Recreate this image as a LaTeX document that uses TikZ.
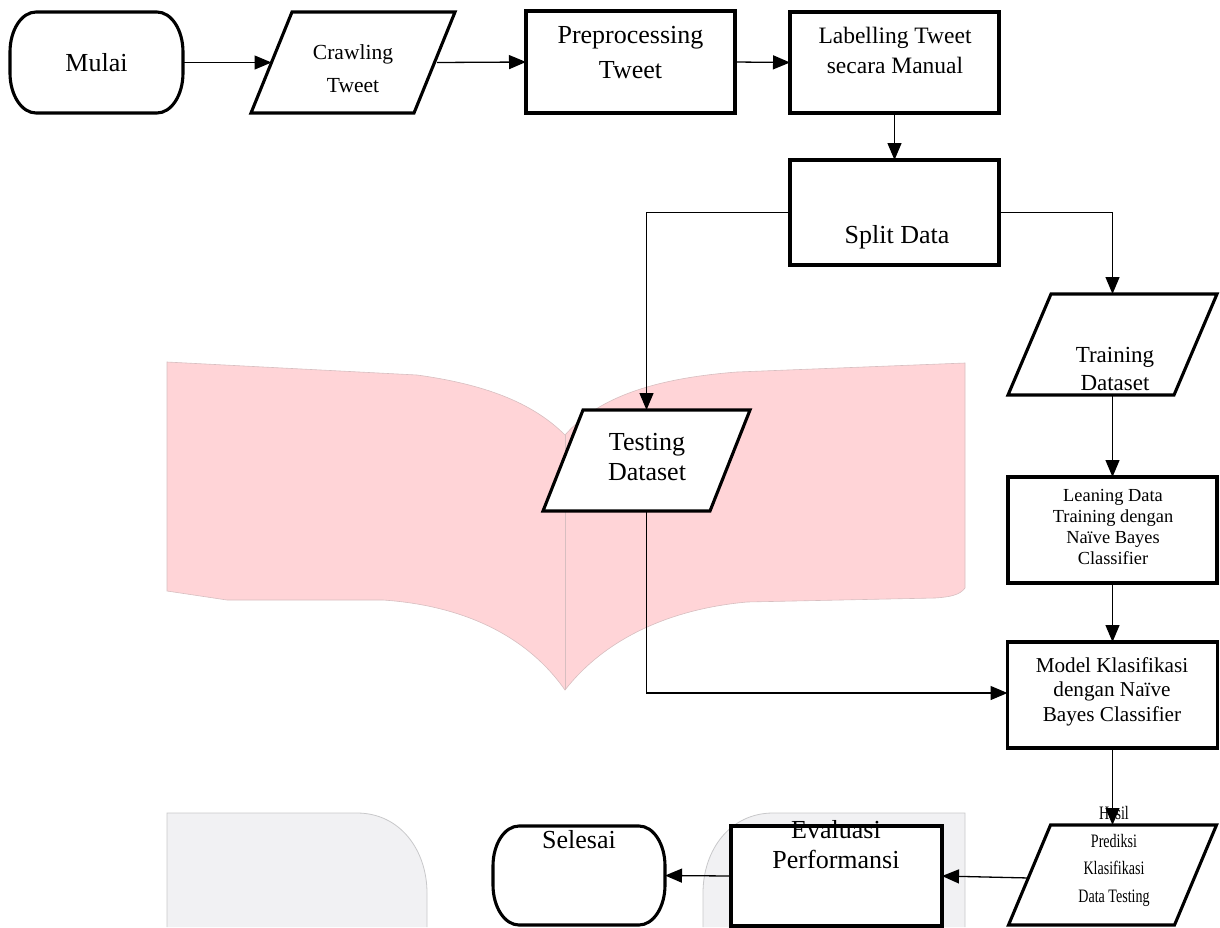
\documentclass[tikz,border=0pt]{standalone}
\usepackage{fontspec}
\setmainfont{Liberation Serif}
\usetikzlibrary{arrows.meta}
\definecolor{pinkfill}{RGB}{255,212,215}
\definecolor{pinkedge}{RGB}{215,190,192}
\definecolor{grayfill}{RGB}{241,241,243}
\definecolor{grayedge}{RGB}{200,200,202}
\newcommand\termpath[1]{\draw[boxline,fill=white] ([xshift=26pt]#1.north west) -- ([xshift=-26pt]#1.north east) arc[start angle=90,end angle=0,x radius=26pt,y radius=40pt] -- ([yshift=40pt]#1.south east) arc[start angle=0,end angle=-90,x radius=26pt,y radius=40pt] -- ([xshift=26pt]#1.south west) arc[start angle=270,end angle=180,x radius=26pt,y radius=40pt] -- ([yshift=-40pt]#1.north west) arc[start angle=180,end angle=90,x radius=26pt,y radius=40pt] -- cycle;}
\newcommand\parapath[2]{\draw[boxline,fill=white] ([xshift=#2]#1.north west) -- (#1.north east) -- ([xshift=-#2]#1.south east) -- (#1.south west) -- cycle;}
\begin{document}
\begin{tikzpicture}[x=1pt,y=1pt,
  boxline/.style={line width=3.1pt,line join=miter},
  box/.style={boxline,draw,fill=white,rectangle,inner sep=0pt,outer sep=0pt},
  frame/.style={rectangle,inner sep=0pt,outer sep=0pt},
  txt/.style={align=center,inner sep=0pt},
  conn/.style={line width=1.3pt,-{Triangle[length=17pt,width=14pt]}}]
\useasboundingbox (0,0) rectangle (1220,-927);
% background decorative shapes
\path[fill=pinkfill,draw=pinkedge,line width=0.6pt]
  (167,-362) -- (417,-375) .. controls (490,-385) and (535,-405) .. (565,-435)
  .. controls (600,-395) and (660,-378) .. (737,-372) -- (965,-363) -- (965,-588)
  .. controls (960,-595) and (950,-597) .. (935,-598) -- (747,-602)
  .. controls (660,-610) and (600,-645) .. (565,-690)
  .. controls (530,-640) and (470,-606) .. (383,-600) -- (227,-600) -- (167,-591) -- cycle;
\draw[pinkedge,line width=0.6pt] (565,-435) -- (565,-690);
\path[fill=grayfill,draw=grayedge,line width=0.8pt]
  (167,-927) -- (167,-813) -- (357,-813) .. controls (400,-813) and (427,-850) .. (427,-893) -- (427,-927);
\path[fill=grayfill,draw=grayedge,line width=0.8pt]
  (703,-927) -- (703,-893) .. controls (703,-850) and (730,-813) .. (773,-813) -- (965,-813) -- (965,-927);
% nodes
\node[frame,minimum width=173pt,minimum height=101pt] (mulai) at (96.5,-62.5) {};
\termpath{mulai}
\node[txt,font=\fontsize{26}{30}\selectfont] (mulaiT) at (96.5,-63) {Mulai};
\node[frame,minimum width=204pt,minimum height=101pt] (crawl) at (353,-62.5) {};
\parapath{crawl}{41pt}
\node[txt,font=\fontsize{21.5}{33}\selectfont] (crawlT) at (353,-68.5) {Crawling\\Tweet};
\node[box,minimum width=209pt,minimum height=102pt] (pre) at (630.5,-62) {};
\node[txt,font=\fontsize{26}{35}\selectfont] (preT) at (630.5,-52.5) {Preprocessing\\Tweet};
\node[box,minimum width=209pt,minimum height=101pt] (lab) at (894.5,-62.5) {};
\node[txt,font=\fontsize{23.5}{30}\selectfont] (labT) at (895,-50) {Labelling Tweet\\secara Manual};
\node[box,minimum width=209pt,minimum height=105pt] (split) at (894.5,-212.5) {};
\node[txt,font=\fontsize{26}{30}\selectfont] (splitT) at (897,-237) {Split Data};
\node[frame,minimum width=209pt,minimum height=101pt] (train) at (1112.5,-344.5) {};
\parapath{train}{43pt}
\node[txt,font=\fontsize{23}{28}\selectfont] (trainT) at (1115,-369) {Training\\Dataset};
\node[frame,minimum width=207pt,minimum height=101pt] (test) at (646.5,-460.5) {};
\parapath{test}{40pt}
\node[txt,font=\fontsize{26}{30}\selectfont] (testT) at (647,-457) {Testing\\Dataset};
\node[box,minimum width=209pt,minimum height=106pt] (lean) at (1112.5,-530) {};
\node[txt,font=\fontsize{18.4}{21}\selectfont] (leanT) at (1113,-526.5) {Leaning Data\\Training dengan\\Naïve Bayes\\Classifier};
\node[box,minimum width=210pt,minimum height=106pt] (model) at (1112.5,-695) {};
\node[txt,font=\fontsize{21.2}{24.5}\selectfont] (modelT) at (1112,-691.5) {Model Klasifikasi\\dengan Naïve\\Bayes Classifier};
\node[frame,minimum width=208pt,minimum height=100pt] (hasil) at (1112.5,-875) {};
\parapath{hasil}{42pt}
\node[txt,font=\fontsize{19}{27.7}\selectfont] (hasilT) at (1114,-856.5) {\scalebox{0.74}[1]{Hasil}\\\scalebox{0.74}[1]{Prediksi}\\\scalebox{0.74}[1]{Klasifikasi}\\\scalebox{0.74}[1]{Data Testing}};
\node[box,minimum width=211pt,minimum height=100pt] (eval) at (836.5,-876) {};
\node[txt,font=\fontsize{26}{30}\selectfont] (evalT) at (836,-845) {Evaluasi\\Performansi};
\node[frame,minimum width=172pt,minimum height=99pt] (sel) at (579,-875.5) {};
\termpath{sel}
\node[txt,font=\fontsize{26}{30}\selectfont] (selT) at (579,-840) {Selesai};
% connectors
\draw[conn] (mulai.east) -- ([xshift=20.5pt]crawl.west);
\draw[conn] ([xshift=-18pt]crawl.east) -- (pre.west);
\draw[conn] (pre.east) -- (lab.west);
\draw[conn] (lab.south) -- (split.north);
\draw[conn] (split.west) -| (test.north);
\draw[conn] (split.east) -| (train.north);
\draw[conn] (train.south) -- (lean.north);
\draw[conn] (lean.south) -- (model.north);
\draw[conn] (test.south) |- ([yshift=2pt]model.west);
\draw[conn] (model.south) -- (hasil.north);
\draw[conn] ([xshift=21pt,yshift=-3pt]hasil.west) -- (eval.east);
\draw[conn] (eval.west) -- (sel.east);
\end{tikzpicture}
\end{document}
